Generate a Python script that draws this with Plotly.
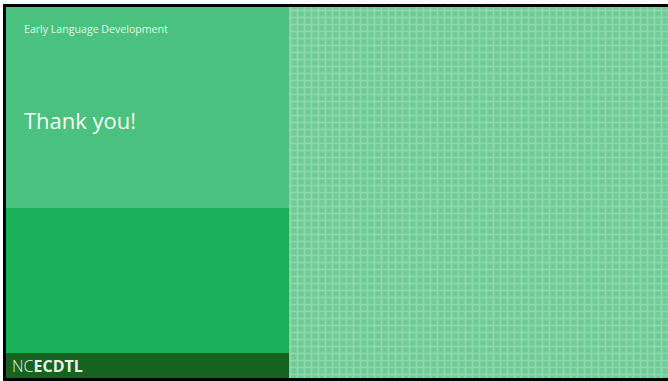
import plotly.graph_objects as go

W, H = 668, 381

# Slide panels: x0, y0, x1, y1, colour
panel_names = ["title_panel", "middle_panel", "footer_panel", "pattern_base"]
panel_x0 = [6, 6, 6, 289]
panel_y0 = [7, 208, 353, 7]
panel_x1 = [289, 289, 289, 668]
panel_y1 = [208, 353, 378, 378]
panel_colors = ["#4ac17e", "#19b05a", "#16621f", "#70cc96"]

# Black frame bars (top, left, bottom)
frame_x0 = [3, 3, 3]
frame_y0 = [4, 4, 378]
frame_x1 = [668, 6, 668]
frame_y1 = [7, 381, 381]

pattern_x = [289, 668, 668, 289, 289]
pattern_y = [7, 7, 378, 378, 7]

subtitle = "Early Language Development"
title = "Thank you!"
logo_light = "NC"
logo_bold = "ECDTL"

fig = go.Figure()

# Patterned right panel
fig.add_trace(go.Scatter(
    x=pattern_x, y=pattern_y, mode="lines", fill="toself",
    line=dict(width=0, color="rgba(0,0,0,0)"),
    fillcolor="#70cc96",
    fillpattern=dict(shape="+", fgcolor="#ade5c3", bgcolor="#70cc96",
                     size=7, solidity=0.4),
    hoverinfo="skip", showlegend=False,
))

shapes = []
for x0, y0, x1, y1 in zip(frame_x0, frame_y0, frame_x1, frame_y1):
    shapes.append(dict(type="rect", xref="paper", yref="paper",
                       x0=x0 / W, y0=1 - y1 / H, x1=x1 / W, y1=1 - y0 / H,
                       fillcolor="#000000", line=dict(width=0), layer="below"))
for x0, y0, x1, y1, c in zip(panel_x0, panel_y0, panel_x1, panel_y1, panel_colors):
    shapes.append(dict(type="rect", xref="x", yref="y", x0=x0, y0=y0, x1=x1, y1=y1,
                       fillcolor=c, line=dict(width=0), layer="below"))

annotations = [
    dict(x=22, y=29, xref="x", yref="y", text=subtitle, showarrow=False,
         xanchor="left", yanchor="middle",
         font=dict(family="Open Sans", size=10.6, color="#e4f5ea")),
    dict(x=22, y=120, xref="x", yref="y", text=title, showarrow=False,
         xanchor="left", yanchor="middle",
         font=dict(family="Open Sans", size=22, color="#f4fbf6")),
    dict(x=10, y=366, xref="x", yref="y",
         text=f"<span style='font-weight:300'>{logo_light}</span><b>{logo_bold}</b>",
         showarrow=False, xanchor="left", yanchor="middle",
         font=dict(family="Open Sans", size=16, color="#e8f3ea")),
]

fig.update_layout(
    width=W, height=H,
    margin=dict(l=0, r=0, t=0, b=0),
    paper_bgcolor="#ffffff", plot_bgcolor="rgba(0,0,0,0)",
    xaxis=dict(range=[0, W], visible=False, fixedrange=True),
    yaxis=dict(range=[H, 0], visible=False, fixedrange=True),
    shapes=shapes, annotations=annotations, showlegend=False,
)

fig.write_html(
    "out.html",
    config={"displayModeBar": False},
    post_script="document.body.style.margin='0';document.body.style.overflow='hidden';",
)
